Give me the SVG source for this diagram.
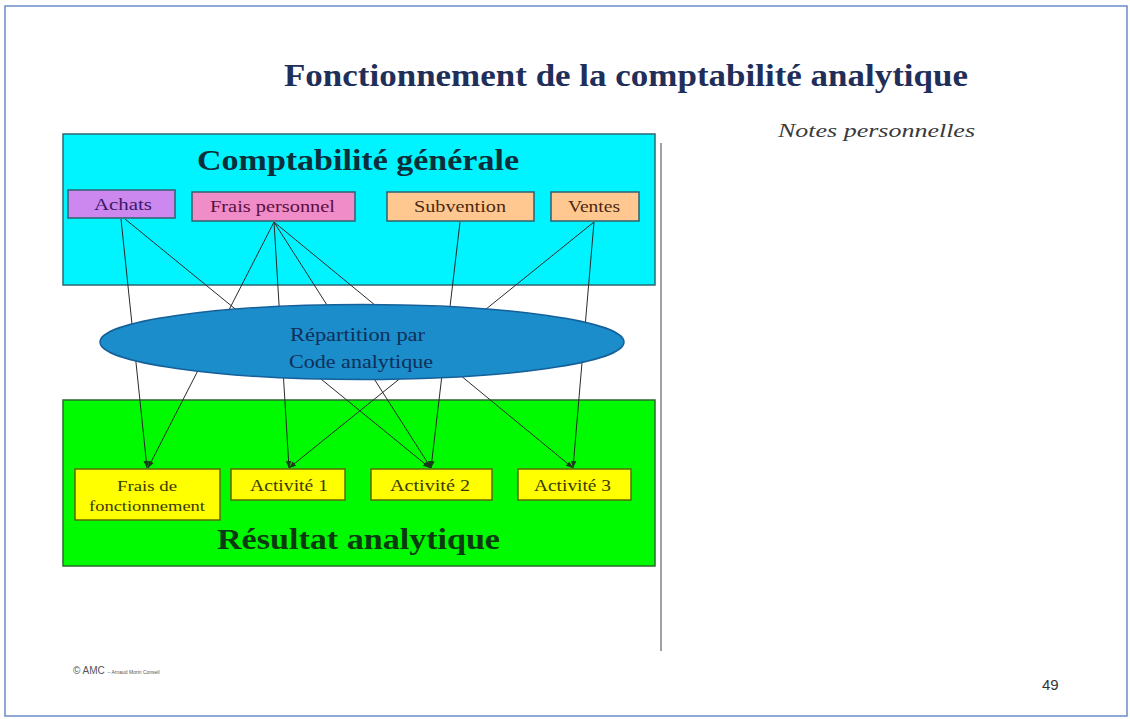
<svg xmlns="http://www.w3.org/2000/svg" width="1130" height="719" viewBox="0 0 1130 719">
<style>
.serif{font-family:"Liberation Serif","Times New Roman",serif}
.big{font-weight:bold;font-size:30px}
.lbl{font-size:17px}
.conn{stroke:#2a2a2a;stroke-width:1;fill:none;marker-end:url(#arr)}
.top{stroke:#2f5f6f;stroke-width:1.5}
.yel{fill:#ffff00;stroke:#5a6a00;stroke-width:1.5}
</style>
<defs>
<marker id="arr" viewBox="0 0 10 10" refX="10" refY="5" markerWidth="7" markerHeight="7" orient="auto" markerUnits="userSpaceOnUse">
<path d="M0,1 L10,5 L0,9 z" fill="#1a3a1a"/>
</marker>
</defs>
<rect x="0" y="0" width="1130" height="719" fill="#ffffff"/>
<rect x="5" y="6" width="1122" height="710" fill="none" stroke="#6a8cc8" stroke-width="1.5"/>

<g id="title">
<text class="serif" x="284" y="86" font-size="32" font-weight="bold" fill="#1f2f5a" textLength="684" lengthAdjust="spacingAndGlyphs">Fonctionnement de la comptabilité analytique</text>
</g>
<g id="notes">
<text class="serif" x="778" y="137" font-size="19" font-style="italic" fill="#3a3a3a" textLength="197" lengthAdjust="spacingAndGlyphs">Notes personnelles</text>
</g>
<g id="divider">
<line x1="661" y1="143" x2="661" y2="651" stroke="#a0a0a8" stroke-width="2"/>
</g>

<g id="comptabilite-generale">
<rect x="63" y="134" width="592" height="151" fill="#00f4ff" stroke="#2a6a70" stroke-width="1.5"/>
<text class="serif big" x="197" y="170" fill="#0a2f3a" textLength="322" lengthAdjust="spacingAndGlyphs">Comptabilité générale</text>
</g>
<g id="resultat-analytique">
<rect x="63" y="400" width="592" height="166" fill="#00fa00" stroke="#2a6a2a" stroke-width="1.5"/>
<text class="serif big" x="217" y="549" fill="#0a3a10" textLength="283" lengthAdjust="spacingAndGlyphs">Résultat analytique</text>
</g>

<g id="connectors">
<line class="conn" x1="121" y1="219" x2="147" y2="468"/>
<line class="conn" x1="125" y1="219" x2="430" y2="468"/>
<line class="conn" x1="274" y1="222" x2="148" y2="468"/>
<line class="conn" x1="274" y1="222" x2="289" y2="468"/>
<line class="conn" x1="274" y1="222" x2="431" y2="468"/>
<line class="conn" x1="274" y1="222" x2="573" y2="468"/>
<line class="conn" x1="460" y1="222" x2="431" y2="468"/>
<line class="conn" x1="594" y1="222" x2="289" y2="468"/>
<line class="conn" x1="594" y1="222" x2="573" y2="468"/>
</g>

<g id="repartition">
<ellipse cx="362" cy="342" rx="262" ry="37.5" fill="#1a8dca" stroke="#15609a" stroke-width="1.5"/>
<text class="serif" x="290" y="341" font-size="18" fill="#0f2f5a" textLength="135" lengthAdjust="spacingAndGlyphs">Répartition par</text>
<text class="serif" x="289" y="368" font-size="18" fill="#0f2f5a" textLength="144" lengthAdjust="spacingAndGlyphs">Code analytique</text>
</g>

<g id="achats">
<rect x="68" y="190" width="107" height="28" fill="#cc88ee" class="top"/>
<text class="serif lbl" x="94" y="210" fill="#3a1a6a" textLength="58" lengthAdjust="spacingAndGlyphs">Achats</text>
</g>
<g id="frais-personnel">
<rect x="192" y="192" width="163" height="29" fill="#f08cc8" class="top"/>
<text class="serif lbl" x="210" y="212" fill="#5a1040" textLength="125" lengthAdjust="spacingAndGlyphs">Frais personnel</text>
</g>
<g id="subvention">
<rect x="387" y="192" width="147" height="29" fill="#ffc890" class="top"/>
<text class="serif lbl" x="414" y="212" fill="#4a2a10" textLength="92" lengthAdjust="spacingAndGlyphs">Subvention</text>
</g>
<g id="ventes">
<rect x="551" y="192" width="88" height="29" fill="#ffc890" class="top"/>
<text class="serif lbl" x="568" y="212" fill="#4a2a10" textLength="52" lengthAdjust="spacingAndGlyphs">Ventes</text>
</g>

<g id="frais-fonctionnement">
<rect x="75" y="469" width="145" height="51" class="yel"/>
<text class="serif" x="117" y="491" font-size="15" fill="#3a3a00" textLength="60" lengthAdjust="spacingAndGlyphs">Frais de</text>
<text class="serif" x="89" y="511" font-size="15" fill="#3a3a00" textLength="116" lengthAdjust="spacingAndGlyphs">fonctionnement</text>
</g>
<g id="activite-1">
<rect x="231" y="469" width="114" height="31" class="yel"/>
<text class="serif lbl" x="250" y="491" fill="#3a3a00" textLength="78" lengthAdjust="spacingAndGlyphs">Activité  1</text>
</g>
<g id="activite-2">
<rect x="371" y="469" width="121" height="31" class="yel"/>
<text class="serif lbl" x="390" y="491" fill="#3a3a00" textLength="80" lengthAdjust="spacingAndGlyphs">Activité  2</text>
</g>
<g id="activite-3">
<rect x="518" y="469" width="113" height="31" class="yel"/>
<text class="serif lbl" x="534" y="491" fill="#3a3a00" textLength="77" lengthAdjust="spacingAndGlyphs">Activité  3</text>
</g>

<g id="footer">
<text x="73" y="674" font-family="'Liberation Sans',Arial,sans-serif" font-size="10" fill="#555">©  AMC  <tspan font-size="5">– Arnaud Morin Conseil</tspan></text>
<text x="1042" y="690" font-family="'Liberation Sans',Arial,sans-serif" font-size="15" fill="#333">49</text>
</g>
</svg>
